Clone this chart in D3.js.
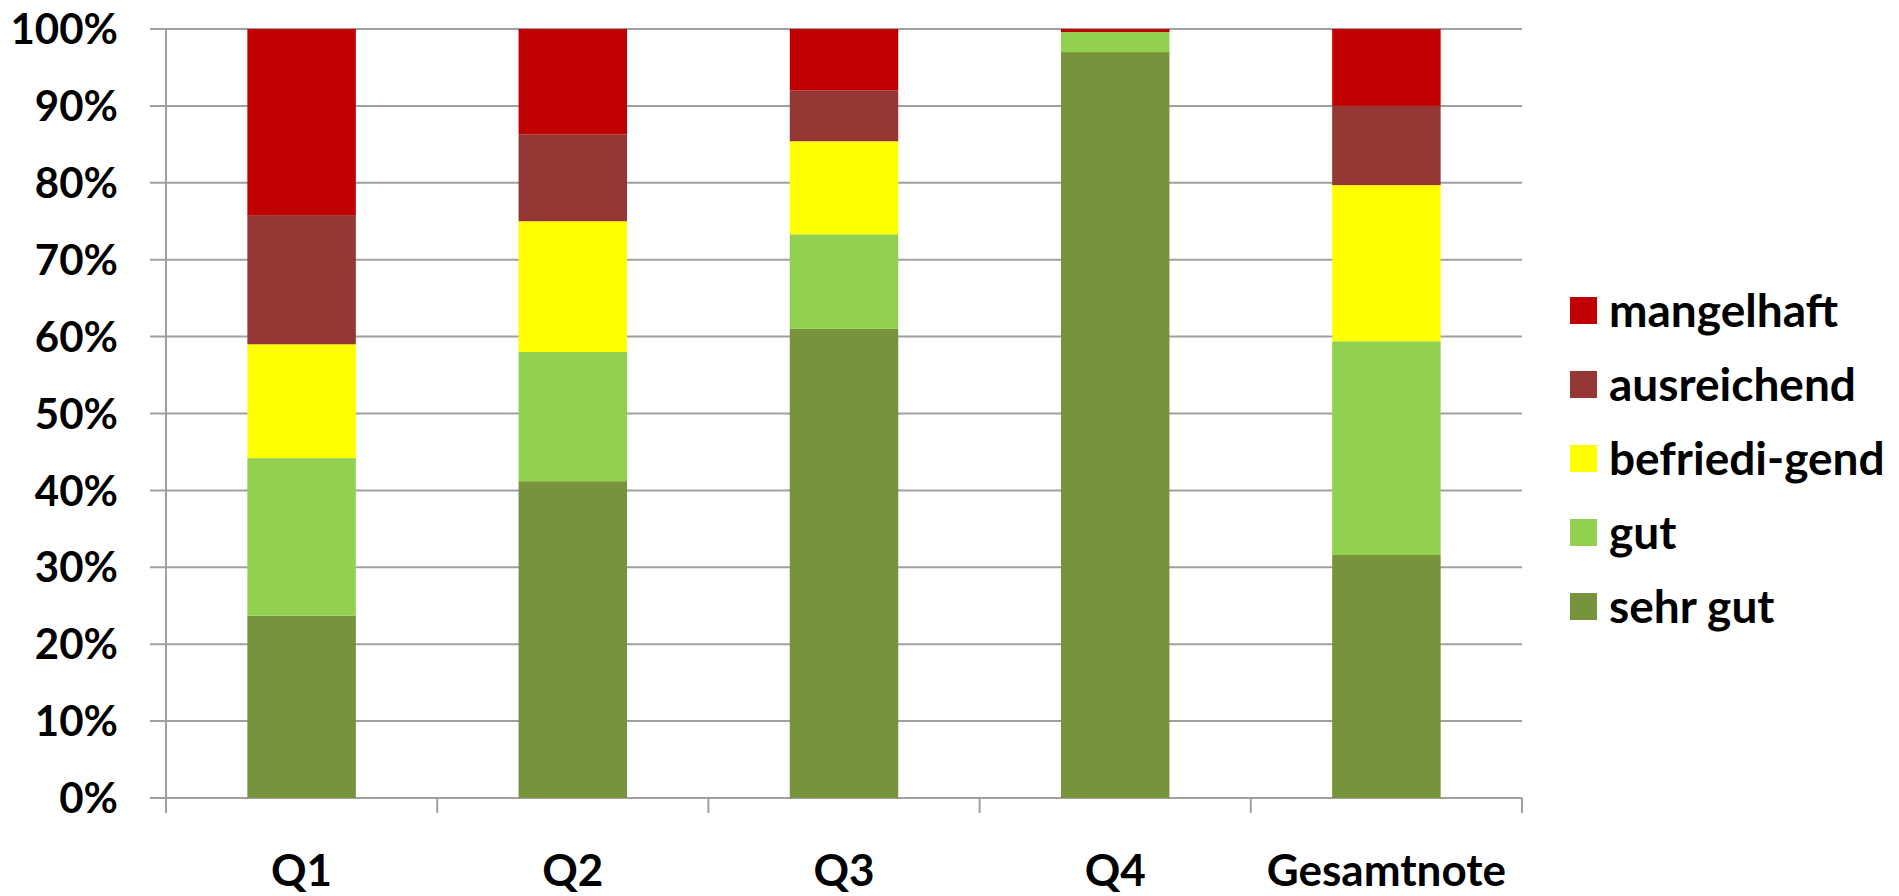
<!DOCTYPE html>
<html>
<head>
<meta charset="utf-8">
<script src="https://cdn.jsdelivr.net/npm/d3@7"></script>
<style>
  body { margin: 0; background: #fff; }
  text { font-family: Lato, "Open Sans", sans-serif; font-weight: bold; fill: #000; }
</style>
</head>
<body>
<svg id="chart"></svg>
<script>
var categories = ['Q1', 'Q2', 'Q3', 'Q4', 'Gesamtnote'];
var seriesNames = ['sehr gut', 'gut', 'befriedi-gend', 'ausreichend', 'mangelhaft'];
var sehrGut      = [23.7, 41.2, 61.0, 97.0, 31.6];
var gut          = [20.5, 16.8, 12.3, 2.6, 27.8];
var befriedigend = [14.8, 17.0, 12.1, 0, 20.3];
var ausreichend  = [16.8, 11.3, 6.6, 0, 10.3];
var mangelhaft   = [24.2, 13.7, 8.0, 0.4, 10.0];
var yTicks = [0, 10, 20, 30, 40, 50, 60, 70, 80, 90, 100];
var colors = ['#77933C', '#92D050', '#FFFF00', '#953735', '#C00000'];

var margin = {top: 29, left: 166},
    width = 1356,
    height = 769;

var svg = d3.select("#chart")
  .attr("width", 1899)
  .attr("height", 896);

var g = svg.append("g")
  .attr("transform", "translate(" + margin.left + "," + margin.top + ")");

// build table for the stack
var seriesData = [sehrGut, gut, befriedigend, ausreichend, mangelhaft];
var table = categories.map(function(c, i) {
  var row = {cat: c};
  seriesNames.forEach(function(s, j) { row[s] = seriesData[j][i]; });
  return row;
});
var stacked = d3.stack().keys(seriesNames)(table);

var x = d3.scaleBand().domain(categories).range([0, width]).paddingInner(0).paddingOuter(0);
var y = d3.scaleLinear().domain([0, 100]).range([height, 0]);
var barW = x.bandwidth() * 0.4;

// gridlines + y tick marks
g.append("g")
  .selectAll("line")
  .data(yTicks)
  .enter().append("line")
  .attr("x1", -16)
  .attr("x2", width)
  .attr("y1", function(d) { return y(d); })
  .attr("y2", function(d) { return y(d); })
  .attr("stroke", "#a0a0a0")
  .attr("stroke-width", 2);

// y labels
g.append("g")
  .selectAll("text")
  .data(yTicks)
  .enter().append("text")
  .attr("x", -48)
  .attr("y", function(d) { return y(d); })
  .attr("dy", "0.36em")
  .attr("text-anchor", "end")
  .style("font-size", "42px")
  .text(function(d) { return d + "%"; });

// bars
g.selectAll(".layer")
  .data(stacked)
  .enter().append("g")
  .attr("class", "layer")
  .attr("fill", function(d, i) { return colors[i]; })
  .selectAll("rect")
  .data(function(d) { return d; })
  .enter().append("rect")
  .attr("x", function(d) { return x(d.data.cat) + (x.bandwidth() - barW) / 2; })
  .attr("width", barW)
  .attr("y", function(d) { return y(d[1]); })
  .attr("height", function(d) { return y(d[0]) - y(d[1]); });

// y axis line
g.append("line")
  .attr("x1", 0).attr("x2", 0)
  .attr("y1", 0).attr("y2", height + 15)
  .attr("stroke", "#a0a0a0")
  .attr("stroke-width", 2);

// category boundary ticks
var bounds = categories.map(function(c) { return x(c) + x.bandwidth(); });
g.append("g")
  .selectAll("line")
  .data(bounds)
  .enter().append("line")
  .attr("x1", function(d) { return d; })
  .attr("x2", function(d) { return d; })
  .attr("y1", height)
  .attr("y2", height + 15)
  .attr("stroke", "#a0a0a0")
  .attr("stroke-width", 2);

// x labels
g.append("g")
  .selectAll("text")
  .data(categories)
  .enter().append("text")
  .attr("x", function(d) { return x(d) + x.bandwidth() / 2; })
  .attr("y", height + 88)
  .attr("text-anchor", "middle")
  .style("font-size", "44px")
  .text(function(d) { return d; });

// legend (top item is the top of the stack)
var legendItems = seriesNames.map(function(s, i) { return {name: s, color: colors[i]}; }).reverse();
var legend = svg.append("g")
  .attr("transform", "translate(1570,297)");
var li = legend.selectAll("g")
  .data(legendItems)
  .enter().append("g")
  .attr("transform", function(d, i) { return "translate(0," + (i * 74) + ")"; });
li.append("rect")
  .attr("width", 27)
  .attr("height", 27)
  .attr("fill", function(d) { return d.color; });
li.append("text")
  .attr("x", 39)
  .attr("y", 13.5)
  .attr("dy", "0.36em")
  .style("font-size", "46px")
  .text(function(d) { return d.name; });
</script>
</body>
</html>
